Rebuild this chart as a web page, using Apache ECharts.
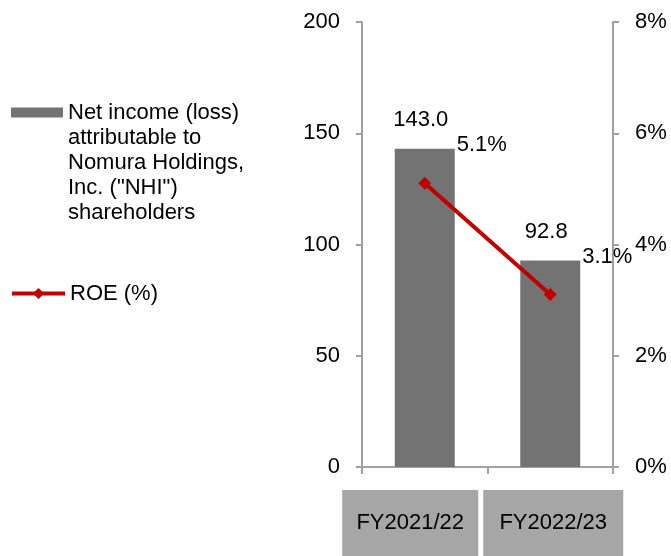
<!DOCTYPE html>
<html>
<head>
<meta charset="utf-8">
<style>
  html, body { margin: 0; padding: 0; background: #fff; }
  #chart { width: 671px; height: 556px; }
</style>
<script src="https://cdn.jsdelivr.net/npm/echarts@6/dist/echarts.min.js"></script>
</head>
<body>
<div id="chart"></div>
<script>
// data
const categories = ["FY2021/22", "FY2022/23"];
const netIncome = [143.0, 92.8];
const roe = [5.1, 3.1];
const leftTicks = { min: 0, max: 200, interval: 50 };
const rightTicks = { min: 0, max: 8, interval: 2 };

const barName = 'Net income (loss) attributable to Nomura Holdings, Inc. ("NHI") shareholders';
const barLegendLines = ["Net income (loss)", "attributable to", "Nomura Holdings,", 'Inc. ("NHI")', "shareholders"];
const lineName = "ROE (%)";

const font = "'Liberation Sans', Arial, sans-serif";
const fs = 22;

const chart = echarts.init(document.getElementById("chart"));

chart.setOption({
  animation: false,
  textStyle: { fontFamily: font, color: "#000" },
  grid: { left: 362, right: 58, top: 22, bottom: 88 },
  legend: [
    {
      data: [barName],
      orient: "vertical",
      left: 11,
      top: 0,
      padding: 0,
      icon: "rect",
      itemWidth: 52,
      itemHeight: 10,
      // empty lines above keep the first text line level with the icon
      formatter: () => "\n\n\n\n" + barLegendLines.join("\n"),
      textStyle: { fontSize: fs, lineHeight: 25, color: "#000" },
    },
    {
      data: [lineName],
      orient: "vertical",
      left: 10,
      top: 281,
      padding: 0,
      itemWidth: 53,
      itemHeight: 14,
      lineStyle: { width: 4, color: "#c00000" },
      textStyle: { fontSize: fs, lineHeight: 25, color: "#000" },
    },
  ],
  xAxis: {
    type: "category",
    data: categories,
    axisLine: { lineStyle: { color: "#a0a0a0", width: 2 } },
    axisTick: { show: true, length: 7, lineStyle: { color: "#a0a0a0", width: 2 } },
    axisLabel: {
      interval: 0,
      margin: 23,
      formatter: (v, i) => (i === 0 ? "{a|" + v + "}{s|}" : "{t|}{b|" + v + "}"),
      rich: {
        a: { width: 136, height: 66, lineHeight: 66, align: "center", backgroundColor: "#a6a6a6", fontSize: fs, color: "#000" },
        b: { width: 140, height: 66, lineHeight: 66, align: "center", backgroundColor: "#a6a6a6", fontSize: fs, color: "#000" },
        s: { width: 29, height: 66 },
        t: { width: 6, height: 66 },
      },
    },
  },
  yAxis: [
    {
      type: "value",
      min: leftTicks.min,
      max: leftTicks.max,
      interval: leftTicks.interval,
      splitLine: { show: false },
      axisLine: { show: true, lineStyle: { color: "#a0a0a0", width: 2 } },
      axisTick: { show: true, length: 6, lineStyle: { color: "#a0a0a0", width: 2 } },
      axisLabel: { margin: 22, fontSize: fs, color: "#000" },
    },
    {
      type: "value",
      min: rightTicks.min,
      max: rightTicks.max,
      interval: rightTicks.interval,
      position: "right",
      splitLine: { show: false },
      axisLine: { show: true, lineStyle: { color: "#a0a0a0", width: 2 } },
      axisTick: { show: true, length: 6, lineStyle: { color: "#a0a0a0", width: 2 } },
      axisLabel: { margin: 22, fontSize: fs, color: "#000", formatter: "{value}%" },
    },
  ],
  series: [
    {
      name: barName,
      type: "bar",
      data: netIncome,
      barWidth: 60,
      itemStyle: { color: "#737373" },
      label: {
        show: true,
        position: "top",
        distance: 18,
        offset: [-4, 0],
        fontSize: fs,
        color: "#000",
        formatter: (p) => p.value.toFixed(1),
      },
    },
    {
      name: lineName,
      type: "line",
      yAxisIndex: 1,
      data: roe,
      symbol: "diamond",
      symbolSize: 13,
      lineStyle: { color: "#c00000", width: 4 },
      itemStyle: { color: "#c00000" },
      label: {
        show: true,
        position: "inside",
        offset: [57, -38],
        fontSize: fs,
        color: "#000",
        formatter: (p) => p.value.toFixed(1) + "%",
      },
    },
  ],
});
</script>
</body>
</html>
